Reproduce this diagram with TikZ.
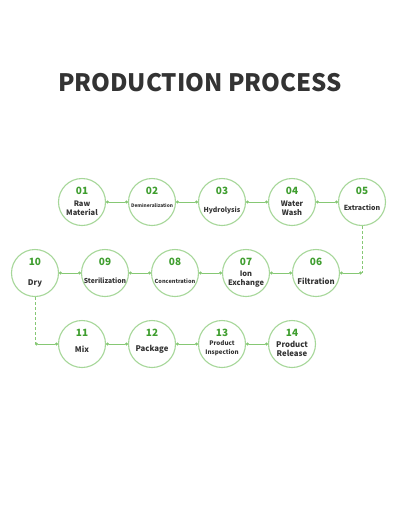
\documentclass[tikz,border=0pt]{standalone}
\usepackage{fontspec}
\setmainfont{Noto Sans CJK SC}
\usetikzlibrary{arrows.meta}

\definecolor{ringgreen}{HTML}{A6D799}
\definecolor{linkgreen}{HTML}{86C874}
\definecolor{numgreen}{HTML}{3F9E2F}
\definecolor{textgray}{HTML}{333333}

\tikzset{
    stepring/.style={circle, draw=ringgreen, line width=1.1pt, minimum size=47pt, inner sep=0pt},
    stepnum/.style={text=numgreen, font=\fontsize{10}{10}\selectfont\bfseries},
    steplabel/.style={text=textgray, align=center, inner sep=0pt},
    link/.style={draw=linkgreen, line width=0.9pt, {Circle[length=3pt]}-{Circle[length=3pt]}},
    droplink/.style={draw=linkgreen, line width=0.5pt, densely dashed},
}

% #1 number, #2 x, #3 y, #4 label shift, #5 font size, #6 label
\newcommand{\procstep}[6]{%
    \node[stepring] (c#1) at (#2,#3) {};
    \node[stepnum] (n#1) at (#2,#3-11) {#1};
    \node[steplabel, font=\fontsize{#5}{9.3}\selectfont\bfseries] (t#1) at (#2,#3+#4) {#6};
}

\begin{document}
\begin{tikzpicture}[x=1pt, y=-1pt]

\useasboundingbox[fill=white] (0,0) rectangle (400,520);

% Title
\node[text=textgray] (title) at (200,83) {\fontsize{24}{24}\selectfont\bfseries PRODUCTION PROCESS};

% Draws steps
\procstep{01}{82}{202}{6}{7.5}{Raw\\Material}
\procstep{02}{152}{202}{4}{4.8}{Demineralization}
\procstep{03}{222}{202}{8}{6.8}{Hydrolysis}
\procstep{04}{292}{202}{6}{7.5}{Water\\Wash}
\procstep{05}{362}{202}{6}{7}{Extraction}
\procstep{06}{316}{273}{8}{7.8}{Filtration}
\procstep{07}{246}{273}{6}{7.5}{Ion\\Exchange}
\procstep{08}{175}{273}{8}{5.6}{Concentration}
\procstep{09}{105}{273}{8}{6.8}{Sterilization}
\procstep{10}{35}{273}{10}{7.8}{Dry}
\procstep{11}{82}{344}{5}{7.8}{Mix}
\procstep{12}{152}{344}{5}{7.8}{Package}
\procstep{13}{222}{344}{4}{6.2}{Product\\Inspection}
\procstep{14}{292}{344}{5}{7.8}{Product\\Release}

% Turn points
\coordinate (turnA) at (362,273);
\coordinate (turnB) at (35,344);

% Draws links
\foreach \a/\b in {01/02, 02/03, 03/04, 04/05, 06/07, 07/08, 08/09, 09/10, 11/12, 12/13, 13/14} {
    \draw[link] (c\a) -- (c\b);
}
\draw[droplink] (c05) -- (turnA);
\draw[link] (turnA) -- (c06);
\draw[droplink] (c10) -- (turnB);
\draw[link] (turnB) -- (c11);

\end{tikzpicture}
\end{document}
